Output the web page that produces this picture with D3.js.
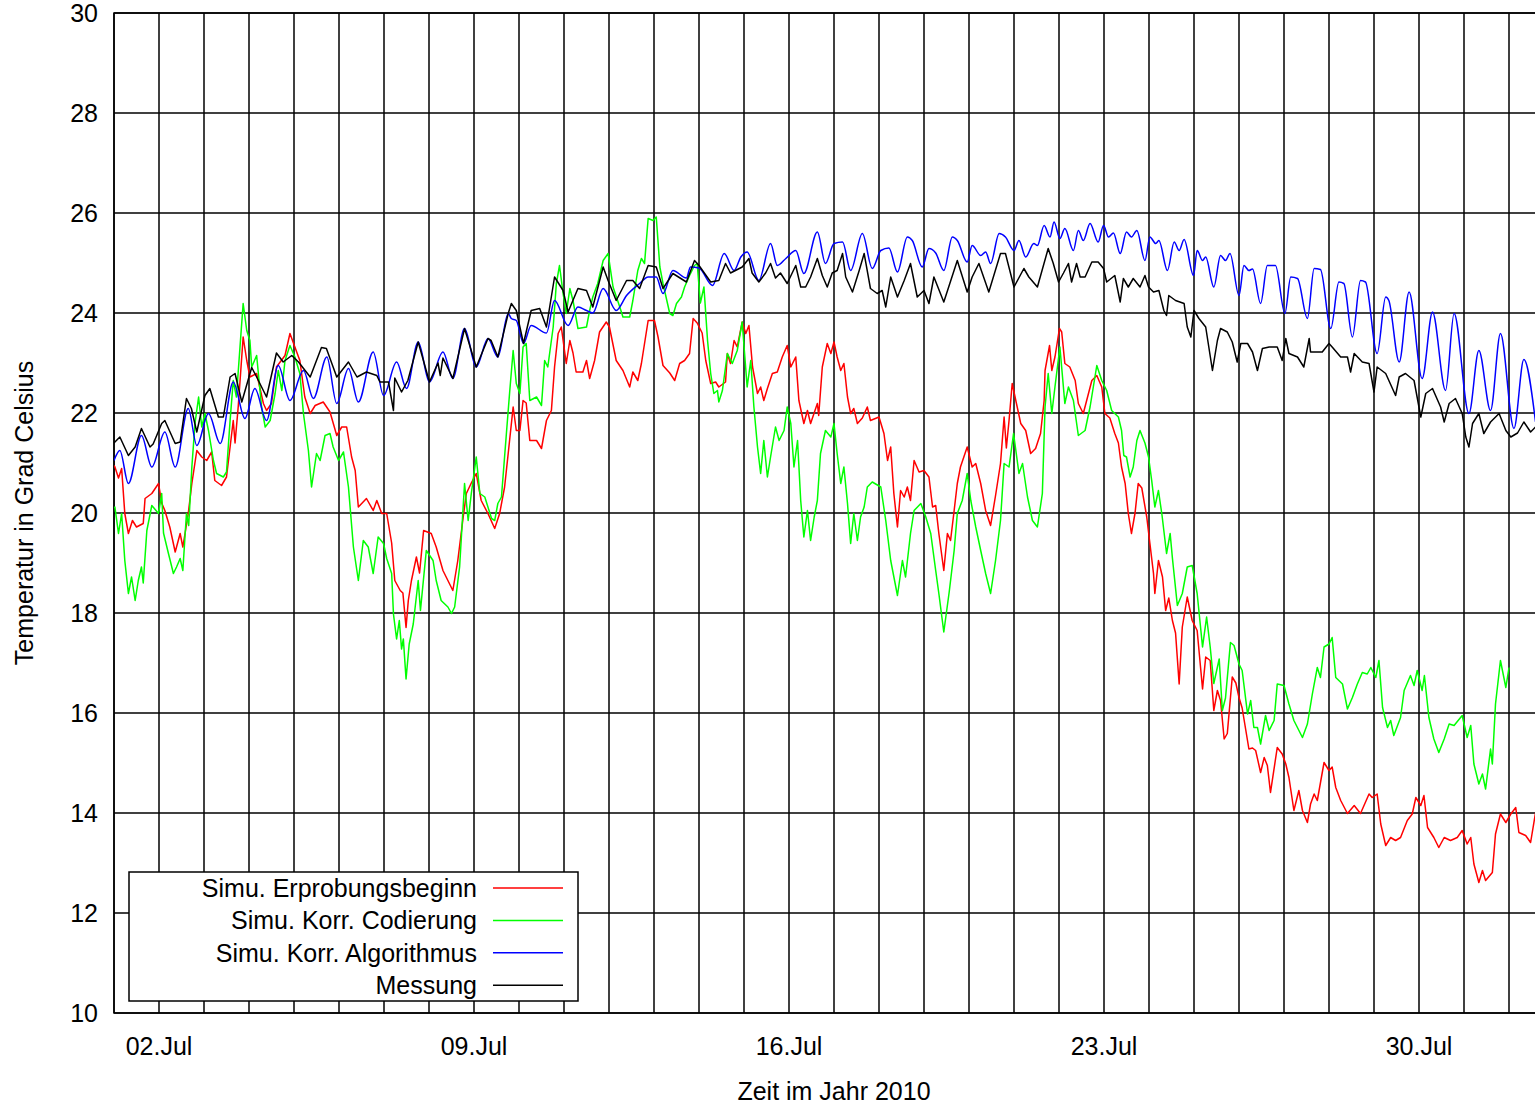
<!DOCTYPE html>
<html>
<head>
<meta charset="utf-8">
<script src="https://cdn.jsdelivr.net/npm/d3@7"></script>
<style>
  body { margin: 0; background: #fff; }
  svg { display: block; font-family: "Liberation Sans", Arial, sans-serif; }
</style>
</head>
<body>
<svg id="chart"></svg>
<script>
// time is given as decimal day of July 2010 (1.0 = 01.Jul 00:00), values in degC
let erprobung = [[1.0,20.95],[1.02,20.92],[1.1,20.7],[1.17,20.89],[1.24,19.99],[1.32,19.59],[1.41,19.85],[1.5,19.72],[1.65,19.79],[1.69,20.29],[1.84,20.39],[1.99,20.59],[2.06,20.2],[2.13,20.05],[2.24,19.72],[2.36,19.22],[2.47,19.59],[2.53,19.32],[2.65,19.99],[2.73,20.59],[2.84,21.25],[2.95,21.12],[3.06,21.05],[3.17,21.22],[3.24,20.65],[3.39,20.55],[3.5,20.72],[3.65,21.85],[3.69,21.4],[3.76,22.12],[3.87,23.52],[3.95,23.05],[4.02,22.72],[4.17,22.79],[4.32,22.19],[4.39,22.05],[4.5,22.19],[4.61,22.92],[4.8,23.15],[4.91,23.59],[5.06,23.22],[5.13,23.05],[5.24,22.32],[5.36,21.99],[5.47,22.15],[5.65,22.22],[5.8,22.02],[5.95,21.55],[6.06,21.72],[6.17,21.72],[6.28,21.12],[6.36,20.85],[6.43,20.12],[6.61,20.29],[6.76,20.05],[6.84,20.25],[6.95,19.99],[7.06,19.99],[7.17,19.4],[7.24,18.65],[7.36,18.45],[7.42,18.4],[7.49,17.71],[7.54,18.25],[7.61,18.65],[7.72,19.12],[7.79,18.8],[7.88,19.65],[8.05,19.59],[8.16,19.32],[8.31,18.85],[8.42,18.65],[8.53,18.45],[8.64,19.05],[8.76,19.92],[8.83,20.39],[8.94,20.6],[9.05,20.79],[9.16,20.25],[9.31,19.99],[9.46,19.69],[9.57,19.99],[9.68,20.52],[9.76,21.19],[9.87,22.12],[9.94,21.65],[10.02,21.65],[10.09,22.25],[10.16,22.2],[10.24,21.45],[10.39,21.45],[10.5,21.29],[10.61,21.85],[10.72,22.05],[10.79,22.92],[10.87,23.59],[10.94,23.72],[11.05,22.99],[11.13,23.45],[11.2,23.2],[11.27,22.82],[11.42,22.82],[11.5,23.05],[11.57,22.69],[11.68,23.05],[11.79,23.62],[11.94,23.82],[12.01,23.72],[12.16,23.05],[12.31,22.85],[12.46,22.52],[12.53,22.82],[12.64,22.65],[12.72,22.99],[12.87,23.85],[13.01,23.85],[13.09,23.52],[13.2,22.95],[13.35,22.8],[13.46,22.65],[13.57,22.99],[13.68,23.05],[13.79,23.19],[13.87,23.89],[13.96,23.8],[14.07,23.6],[14.15,23.05],[14.26,22.59],[14.37,22.62],[14.44,22.52],[14.59,22.62],[14.63,23.19],[14.7,22.99],[14.78,23.45],[14.85,23.32],[14.96,23.82],[15.04,23.59],[15.11,23.75],[15.19,22.92],[15.3,22.39],[15.37,22.52],[15.44,22.25],[15.52,22.49],[15.63,22.79],[15.74,22.82],[15.85,23.12],[15.96,23.35],[16.04,22.92],[16.15,23.12],[16.22,22.25],[16.33,21.79],[16.41,22.05],[16.48,21.79],[16.63,22.19],[16.66,21.95],[16.74,22.92],[16.85,23.39],[16.93,23.19],[17.0,23.42],[17.07,23.12],[17.15,22.85],[17.22,22.99],[17.3,22.32],[17.37,21.99],[17.44,22.09],[17.52,21.79],[17.63,21.9],[17.74,22.12],[17.81,21.85],[18.0,21.92],[18.11,21.59],[18.19,21.05],[18.26,21.32],[18.33,20.39],[18.41,19.72],[18.48,20.45],[18.56,20.32],[18.63,20.52],[18.7,20.25],[18.78,21.05],[18.89,20.82],[19.0,20.85],[19.11,20.72],[19.19,20.12],[19.26,20.15],[19.33,19.59],[19.44,18.85],[19.52,19.59],[19.59,19.45],[19.67,20.05],[19.74,20.59],[19.81,20.92],[19.96,21.32],[20.07,20.92],[20.15,20.99],[20.26,20.59],[20.37,20.05],[20.48,19.75],[20.59,20.35],[20.7,20.99],[20.78,21.92],[20.83,21.3],[20.89,21.85],[20.96,22.59],[21.04,22.25],[21.15,21.79],[21.26,21.65],[21.37,21.19],[21.48,21.29],[21.59,21.59],[21.67,22.25],[21.69,22.85],[21.79,23.35],[21.84,22.85],[21.91,23.12],[22.01,23.69],[22.06,23.62],[22.13,22.99],[22.24,22.92],[22.36,22.65],[22.43,22.19],[22.54,21.99],[22.73,22.65],[22.84,22.75],[22.95,22.52],[23.02,21.99],[23.13,21.9],[23.24,21.59],[23.32,21.4],[23.39,20.92],[23.47,20.59],[23.54,19.99],[23.61,19.59],[23.69,20.0],[23.76,20.59],[23.84,20.5],[23.95,19.92],[24.02,19.39],[24.1,18.79],[24.13,18.39],[24.21,19.05],[24.3,18.72],[24.37,18.05],[24.44,18.3],[24.52,17.85],[24.59,17.6],[24.67,16.58],[24.74,17.72],[24.85,18.32],[24.96,17.85],[25.07,17.65],[25.19,16.48],[25.26,17.12],[25.36,17.05],[25.44,16.05],[25.52,16.45],[25.59,16.25],[25.67,15.48],[25.74,15.59],[25.85,16.72],[25.93,16.6],[26.0,16.31],[26.07,16.1],[26.22,15.28],[26.3,15.3],[26.37,15.25],[26.48,14.81],[26.56,15.11],[26.63,14.95],[26.7,14.41],[26.85,15.31],[26.96,15.18],[27.04,14.98],[27.11,14.71],[27.22,14.05],[27.33,14.45],[27.41,14.05],[27.52,13.81],[27.59,14.18],[27.67,14.38],[27.74,14.25],[27.89,15.01],[28.0,14.85],[28.07,14.92],[28.15,14.51],[28.26,14.25],[28.41,13.99],[28.56,14.15],[28.7,13.99],[28.89,14.38],[28.96,14.31],[29.07,14.38],[29.15,13.78],[29.26,13.35],[29.37,13.51],[29.48,13.45],[29.59,13.51],[29.74,13.85],[29.85,13.98],[29.93,14.31],[30.04,14.15],[30.11,14.35],[30.19,13.71],[30.33,13.51],[30.44,13.31],[30.56,13.51],[30.7,13.45],[30.85,13.51],[30.96,13.65],[31.07,13.38],[31.15,13.51],[31.22,12.98],[31.33,12.61],[31.41,12.85],[31.48,12.65],[31.63,12.81],[31.7,13.58],[31.81,13.98],[31.93,13.81],[32.04,13.98],[32.15,14.11],[32.22,13.61],[32.37,13.55],[32.48,13.41],[32.59,14.01]]

let codierung = [[1.0,20.1],[1.02,20.12],[1.1,19.59],[1.17,19.99],[1.24,19.05],[1.32,18.39],[1.39,18.72],[1.47,18.25],[1.54,18.65],[1.61,18.92],[1.65,18.6],[1.73,19.65],[1.84,20.15],[1.99,19.99],[2.06,20.39],[2.1,19.6],[2.21,19.19],[2.32,18.79],[2.39,18.92],[2.47,19.09],[2.53,18.85],[2.61,19.99],[2.66,19.75],[2.73,20.92],[2.8,21.79],[2.88,22.32],[2.95,21.72],[3.02,21.99],[3.1,21.65],[3.21,21.05],[3.28,20.79],[3.43,20.72],[3.5,20.82],[3.58,21.85],[3.65,22.65],[3.72,22.32],[3.8,23.32],[3.87,24.19],[3.95,23.65],[4.02,23.45],[4.06,22.92],[4.17,23.15],[4.28,22.12],[4.36,21.72],[4.47,21.85],[4.58,22.39],[4.65,22.85],[4.73,22.45],[4.8,23.05],[4.91,23.35],[5.02,23.12],[5.13,22.79],[5.21,21.99],[5.32,21.25],[5.39,20.52],[5.5,21.19],[5.58,21.05],[5.69,21.55],[5.8,21.59],[5.87,21.32],[5.99,21.05],[6.1,21.22],[6.21,20.52],[6.32,19.32],[6.43,18.65],[6.54,19.45],[6.65,19.32],[6.76,18.79],[6.87,19.52],[6.99,19.39],[7.06,19.09],[7.17,18.79],[7.21,17.98],[7.28,17.48],[7.34,17.85],[7.39,17.28],[7.43,17.48],[7.49,16.68],[7.56,17.38],[7.65,17.78],[7.76,18.65],[7.81,18.05],[7.94,19.25],[8.09,19.05],[8.16,18.65],[8.27,18.25],[8.42,18.12],[8.5,17.99],[8.57,18.12],[8.68,18.92],[8.79,20.59],[8.87,19.85],[8.94,20.39],[9.05,21.12],[9.13,20.39],[9.24,20.32],[9.39,19.89],[9.46,19.85],[9.53,20.19],[9.61,20.32],[9.72,21.59],[9.79,22.39],[9.87,23.25],[9.94,22.59],[10.02,22.39],[10.09,23.32],[10.16,23.39],[10.24,22.25],[10.39,22.32],[10.5,22.15],[10.57,23.05],[10.64,22.92],[10.76,23.72],[10.83,24.59],[10.9,24.95],[10.98,24.39],[11.05,23.99],[11.13,24.49],[11.2,24.25],[11.31,23.69],[11.5,23.72],[11.57,24.05],[11.64,24.32],[11.75,24.59],[11.87,25.05],[11.98,25.19],[12.09,24.52],[12.24,24.12],[12.31,23.92],[12.46,23.92],[12.53,24.25],[12.64,24.85],[12.72,25.09],[12.79,24.99],[12.87,25.89],[12.98,25.85],[13.05,25.92],[13.13,24.92],[13.2,24.59],[13.35,23.99],[13.42,23.95],[13.5,24.19],[13.61,24.32],[13.68,24.52],[13.79,24.75],[13.9,24.95],[13.96,24.99],[14.03,24.2],[14.11,24.52],[14.19,23.45],[14.26,22.79],[14.33,22.39],[14.41,22.45],[14.44,22.22],[14.52,22.45],[14.63,23.19],[14.74,22.99],[14.85,23.25],[14.96,23.82],[15.07,22.52],[15.15,23.05],[15.22,22.12],[15.3,21.32],[15.37,20.79],[15.44,21.45],[15.52,20.72],[15.59,21.12],[15.7,21.72],[15.78,21.45],[15.89,21.65],[15.96,22.12],[16.04,21.79],[16.11,20.92],[16.19,21.45],[16.26,20.25],[16.33,19.52],[16.41,20.05],[16.48,19.45],[16.56,19.92],[16.63,20.25],[16.7,21.19],[16.81,21.65],[16.93,21.52],[17.0,21.79],[17.07,21.19],[17.15,20.59],[17.22,20.92],[17.3,20.19],[17.37,19.39],[17.44,19.99],[17.52,19.45],[17.59,19.92],[17.67,20.12],[17.74,20.52],[17.85,20.62],[18.04,20.52],[18.15,19.85],[18.26,19.05],[18.41,18.35],[18.52,19.05],[18.59,18.72],[18.7,19.59],[18.78,20.05],[18.93,20.19],[19.04,19.92],[19.15,19.59],[19.26,18.85],[19.33,18.39],[19.44,17.62],[19.56,18.42],[19.67,19.25],[19.74,19.99],[19.85,20.25],[19.96,20.79],[20.04,20.25],[20.15,19.72],[20.26,19.25],[20.37,18.79],[20.48,18.39],[20.59,19.05],[20.7,19.85],[20.78,20.99],[20.89,20.92],[20.99,21.59],[21.11,20.79],[21.19,20.99],[21.3,20.32],[21.41,19.85],[21.52,19.72],[21.63,20.39],[21.69,22.12],[21.76,22.79],[21.84,21.99],[21.91,22.52],[22.02,23.32],[22.13,22.19],[22.21,22.52],[22.32,22.25],[22.43,21.55],[22.58,21.65],[22.69,22.12],[22.84,22.95],[22.95,22.65],[23.06,22.45],[23.17,22.05],[23.32,21.92],[23.39,21.65],[23.44,21.15],[23.5,21.12],[23.58,20.72],[23.65,20.92],[23.73,21.45],[23.8,21.65],[23.91,21.4],[23.99,21.12],[24.06,20.65],[24.13,20.12],[24.21,20.45],[24.29,19.95],[24.39,19.19],[24.47,19.59],[24.52,19.1],[24.63,18.15],[24.74,18.39],[24.85,18.92],[24.96,18.95],[25.07,18.39],[25.19,17.32],[25.28,17.92],[25.36,17.32],[25.44,16.59],[25.56,17.08],[25.63,16.05],[25.7,16.3],[25.81,17.41],[25.89,17.35],[26.0,16.98],[26.07,16.85],[26.19,15.98],[26.26,16.25],[26.33,15.71],[26.41,15.71],[26.48,15.38],[26.59,15.95],[26.67,15.65],[26.78,15.85],[26.85,16.58],[27.0,16.55],[27.11,16.18],[27.22,15.85],[27.41,15.51],[27.52,15.78],[27.63,16.38],[27.74,16.91],[27.81,16.71],[27.89,17.32],[28.0,17.38],[28.07,17.51],[28.15,16.71],[28.3,16.58],[28.41,16.08],[28.52,16.31],[28.63,16.58],[28.74,16.81],[28.85,16.78],[28.93,16.91],[29.04,16.71],[29.11,17.05],[29.19,16.11],[29.3,15.71],[29.37,15.85],[29.44,15.55],[29.59,15.91],[29.67,16.45],[29.81,16.75],[29.89,16.55],[29.96,16.85],[30.07,16.45],[30.12,16.75],[30.22,15.91],[30.33,15.48],[30.44,15.21],[30.56,15.48],[30.67,15.78],[30.78,15.75],[30.96,15.95],[31.07,15.51],[31.15,15.75],[31.22,14.98],[31.33,14.58],[31.41,14.78],[31.48,14.48],[31.59,15.28],[31.63,14.98],[31.7,16.18],[31.81,17.05],[31.93,16.51],[32.0,16.91]]

let algorithmus = [[1.0,21.05],[1.13,21.25],[1.32,20.59],[1.61,21.55],[1.84,20.92],[2.13,21.62],[2.36,20.92],[2.65,22.09],[2.84,21.35],[3.1,21.99],[3.36,21.39],[3.65,22.62],[3.91,21.89],[4.13,22.49],[4.39,21.85],[4.65,22.95],[4.91,22.25],[5.21,22.85],[5.43,22.29],[5.73,23.12],[5.95,22.19],[6.21,22.89],[6.43,22.22],[6.76,23.22],[6.99,22.35],[7.28,23.02],[7.5,22.49],[7.76,23.42],[8.01,22.62],[8.31,23.22],[8.53,22.69],[8.79,23.69],[9.05,22.92],[9.31,23.49],[9.53,23.12],[9.76,23.99],[9.83,23.89],[9.94,23.85],[10.1,23.39],[10.27,23.75],[10.61,23.6],[10.79,24.25],[11.09,23.75],[11.31,24.12],[11.5,24.05],[11.64,24.0],[11.87,24.49],[12.16,24.05],[12.39,24.35],[12.68,24.59],[12.87,24.72],[13.05,24.72],[13.2,24.39],[13.42,24.85],[13.72,24.7],[13.81,24.92],[14.0,24.9],[14.3,24.55],[14.56,25.19],[14.78,24.85],[14.93,25.12],[15.07,25.22],[15.33,24.65],[15.59,25.39],[15.74,24.95],[15.93,25.09],[16.15,25.25],[16.33,24.79],[16.63,25.62],[16.81,24.99],[17.0,25.39],[17.19,25.42],[17.37,24.85],[17.63,25.59],[17.85,24.89],[18.04,25.25],[18.22,25.3],[18.41,24.82],[18.63,25.52],[18.74,25.45],[18.96,24.92],[19.11,25.29],[19.26,25.2],[19.44,24.85],[19.63,25.52],[19.74,25.45],[19.96,25.02],[20.07,25.35],[20.26,25.15],[20.37,25.22],[20.48,24.99],[20.67,25.59],[20.81,25.52],[21.0,25.25],[21.11,25.45],[21.26,25.12],[21.44,25.39],[21.52,25.35],[21.67,25.75],[21.8,25.52],[21.89,25.82],[22.02,25.49],[22.13,25.69],[22.32,25.25],[22.43,25.65],[22.54,25.45],[22.69,25.79],[22.87,25.42],[22.99,25.75],[23.1,25.52],[23.21,25.6],[23.36,25.19],[23.5,25.62],[23.61,25.52],[23.73,25.65],[23.91,25.05],[24.02,25.52],[24.15,25.39],[24.22,25.45],[24.41,24.85],[24.56,25.42],[24.67,25.25],[24.78,25.47],[24.99,24.75],[25.07,25.25],[25.19,25.05],[25.26,25.12],[25.44,24.52],[25.59,25.15],[25.7,25.05],[25.8,25.19],[26.0,24.35],[26.11,24.95],[26.22,24.85],[26.3,24.88],[26.48,24.19],[26.63,24.95],[26.81,24.95],[27.02,23.99],[27.15,24.72],[27.3,24.69],[27.52,23.89],[27.67,24.89],[27.81,24.87],[28.04,23.69],[28.22,24.62],[28.33,24.59],[28.52,23.52],[28.7,24.65],[28.81,24.62],[29.07,23.19],[29.26,24.32],[29.33,24.25],[29.56,23.02],[29.78,24.42],[30.07,22.69],[30.3,24.02],[30.59,22.45],[30.78,23.99],[31.11,21.99],[31.33,23.25],[31.59,22.05],[31.81,23.59],[32.11,21.69],[32.33,23.07],[32.59,21.82]]

let messung = [[1.0,21.4],[1.02,21.42],[1.13,21.52],[1.32,21.15],[1.47,21.32],[1.61,21.69],[1.8,21.32],[1.87,21.38],[2.06,21.79],[2.13,21.85],[2.36,21.39],[2.47,21.42],[2.61,22.29],[2.72,22.09],[2.84,21.62],[3.02,22.35],[3.13,22.49],[3.32,21.92],[3.43,21.92],[3.58,22.72],[3.69,22.79],[3.84,22.22],[4.06,22.91],[4.17,22.72],[4.39,22.32],[4.61,23.2],[4.76,23.02],[4.95,23.15],[5.1,23.02],[5.36,22.72],[5.61,23.31],[5.72,23.29],[5.95,22.72],[6.21,23.02],[6.4,22.72],[6.61,22.82],[6.84,22.75],[6.91,22.62],[7.1,22.62],[7.21,22.05],[7.24,22.7],[7.39,22.42],[7.53,22.65],[7.76,23.42],[8.01,22.62],[8.2,23.0],[8.25,22.75],[8.31,23.1],[8.53,22.69],[8.79,23.69],[9.05,22.92],[9.31,23.49],[9.38,23.45],[9.53,23.12],[9.76,23.99],[9.83,24.19],[9.94,24.05],[10.1,23.39],[10.27,24.05],[10.46,24.09],[10.61,23.72],[10.79,24.72],[10.98,24.45],[11.09,24.02],[11.31,24.49],[11.5,24.45],[11.64,24.12],[11.87,24.92],[11.98,24.65],[12.16,24.25],[12.39,24.65],[12.53,24.65],[12.68,24.49],[12.87,24.95],[13.05,24.92],[13.2,24.49],[13.42,24.79],[13.72,24.62],[13.9,25.05],[14.0,24.95],[14.26,24.62],[14.44,24.65],[14.59,24.99],[14.7,24.8],[14.81,24.85],[14.96,24.92],[15.11,25.09],[15.18,24.8],[15.33,24.62],[15.48,24.8],[15.59,24.99],[15.7,24.7],[15.81,24.8],[15.96,24.59],[16.15,24.95],[16.26,24.52],[16.37,24.52],[16.48,24.72],[16.63,25.09],[16.74,24.75],[16.85,24.52],[16.96,24.8],[17.07,24.85],[17.19,25.19],[17.26,24.72],[17.41,24.42],[17.56,24.85],[17.67,25.19],[17.81,24.49],[17.96,24.39],[18.07,24.45],[18.15,24.12],[18.26,24.72],[18.41,24.32],[18.56,24.65],[18.7,24.99],[18.85,24.32],[19.0,24.45],[19.11,24.19],[19.22,24.72],[19.44,24.22],[19.74,25.05],[19.96,24.42],[20.07,24.72],[20.22,24.99],[20.44,24.42],[20.7,25.19],[20.81,25.19],[21.0,24.52],[21.22,24.89],[21.33,24.72],[21.52,24.52],[21.76,25.29],[21.87,25.0],[21.99,24.62],[22.1,24.8],[22.21,24.99],[22.28,24.62],[22.39,24.99],[22.47,24.72],[22.58,24.72],[22.73,25.02],[22.87,25.02],[22.99,24.89],[23.06,24.62],[23.24,24.75],[23.36,24.22],[23.43,24.69],[23.54,24.52],[23.65,24.69],[23.8,24.52],[23.91,24.75],[23.99,24.52],[24.1,24.42],[24.22,24.45],[24.33,24.05],[24.39,23.95],[24.44,24.35],[24.59,24.25],[24.78,24.19],[24.85,23.72],[24.93,23.52],[25.0,24.05],[25.11,23.89],[25.26,23.72],[25.41,22.85],[25.52,23.45],[25.59,23.69],[25.74,23.62],[25.85,23.42],[25.96,23.02],[26.04,23.39],[26.19,23.39],[26.3,23.22],[26.41,22.85],[26.52,23.29],[26.67,23.32],[26.85,23.32],[26.96,23.05],[27.04,23.49],[27.11,23.19],[27.3,23.12],[27.44,22.92],[27.56,23.49],[27.59,23.22],[27.85,23.22],[28.0,23.39],[28.07,23.32],[28.26,23.12],[28.41,23.12],[28.48,22.82],[28.56,23.19],[28.74,23.02],[28.89,22.99],[29.0,22.42],[29.07,22.92],[29.26,22.79],[29.48,22.35],[29.56,22.72],[29.7,22.79],[29.89,22.65],[30.04,21.92],[30.15,22.39],[30.3,22.49],[30.48,22.12],[30.56,21.82],[30.67,22.19],[30.81,22.29],[30.96,21.99],[31.04,21.52],[31.11,21.32],[31.19,21.79],[31.33,21.99],[31.44,21.59],[31.59,21.82],[31.78,21.99],[31.93,21.65],[32.04,21.52],[32.19,21.6],[32.33,21.82],[32.48,21.62],[32.59,21.72]]

let seriesNames = ["Simu. Erprobungsbeginn", "Simu. Korr. Codierung", "Simu. Korr. Algorithmus", "Messung"]
let seriesColors = ["#ff0000", "#00ff00", "#0000ff", "#000000"]
let seriesData = [erprobung, codierung, algorithmus, messung]

let yTicks = [10, 12, 14, 16, 18, 20, 22, 24, 26, 28, 30]
let xLabelDays = ["2010-07-02", "2010-07-09", "2010-07-16", "2010-07-23", "2010-07-30"]
let xStart = "2010-07-01", xEnd = "2010-08-02"

let parseDay = d3.timeParse("%Y-%m-%d")
let formatTick = d3.timeFormat("%d.%b")
let t0 = parseDay(xStart)
function toDate(day) { return new Date(t0.getTime() + (day - 1) * 864e5) }

let margin = { top: 13, left: 114 },
    width = 1440,
    height = 1000,
    fontSize = "25px"

let x = d3.scaleTime().domain([t0, parseDay(xEnd)]).range([0, width])
let y = d3.scaleLinear().domain([10, 30]).range([height, 0])

let svg = d3.select("#chart")
    .attr("width", 1535)
    .attr("height", 1107)

svg.append("rect").attr("width", 1535).attr("height", 1107).attr("fill", "#fff")

svg.append("defs").append("clipPath")
    .attr("id", "clip")
    .append("rect")
    .attr("width", width)
    .attr("height", height)

let plot = svg.append("g")
    .attr("transform", "translate(" + margin.left + "," + margin.top + ")")

// daily grid
plot.append("g")
    .attr("class", "grid")
    .selectAll("line")
    .data(d3.timeDay.range(t0, parseDay(xEnd)))
    .join("line")
    .attr("x1", d => x(d)).attr("x2", d => x(d))
    .attr("y1", 0).attr("y2", height)
    .attr("stroke", "#000")
    .attr("stroke-width", 1.5)

plot.append("g")
    .attr("class", "grid")
    .selectAll("line")
    .data(yTicks)
    .join("line")
    .attr("x1", 0).attr("x2", width)
    .attr("y1", d => y(d)).attr("y2", d => y(d))
    .attr("stroke", "#000")
    .attr("stroke-width", 1.5)

plot.append("rect")
    .attr("width", width)
    .attr("height", height)
    .attr("fill", "none")
    .attr("stroke", "#000")
    .attr("stroke-width", 1.5)

// y tick labels
plot.append("g")
    .selectAll("text")
    .data(yTicks)
    .join("text")
    .attr("x", -16)
    .attr("y", d => y(d) + 9)
    .attr("text-anchor", "end")
    .style("font-size", fontSize)
    .text(d => d)

// x tick labels
plot.append("g")
    .selectAll("text")
    .data(xLabelDays.map(parseDay))
    .join("text")
    .attr("x", d => x(d))
    .attr("y", height + 42)
    .attr("text-anchor", "middle")
    .style("font-size", fontSize)
    .text(d => formatTick(d))

svg.append("text")
    .attr("x", margin.left + width / 2)
    .attr("y", 1100)
    .attr("text-anchor", "middle")
    .style("font-size", fontSize)
    .text("Zeit im Jahr 2010")

svg.append("text")
    .attr("transform", "translate(33," + (margin.top + height / 2) + ") rotate(-90)")
    .attr("text-anchor", "middle")
    .style("font-size", fontSize)
    .text("Temperatur in Grad Celsius")

// series
let line = d3.line()
    .x(d => x(toDate(d[0])))
    .y(d => y(d[1]))

let smoothLine = d3.line()
    .curve(d3.curveMonotoneX)
    .x(d => x(toDate(d[0])))
    .y(d => y(d[1]))

let lines = plot.append("g").attr("clip-path", "url(#clip)")
seriesData.forEach(function (s, i) {
    lines.append("path")
        .datum(s)
        .attr("d", i == 2 ? smoothLine : line)
        .attr("fill", "none")
        .attr("stroke", seriesColors[i])
        .attr("stroke-width", 1.5)
        .attr("stroke-linejoin", "round")
})

// legend
let legend = svg.append("g").attr("transform", "translate(129,872)")
legend.append("rect")
    .attr("width", 449)
    .attr("height", 129)
    .attr("fill", "#fff")
    .attr("stroke", "#000")
    .attr("stroke-width", 1.5)

seriesNames.forEach(function (name, i) {
    let row = legend.append("g").attr("transform", "translate(0," + (16 + i * 32.4) + ")")
    row.append("text")
        .attr("x", 348)
        .attr("y", 9)
        .attr("text-anchor", "end")
        .style("font-size", fontSize)
        .text(name)
    row.append("line")
        .attr("x1", 364).attr("x2", 434)
        .attr("stroke", seriesColors[i])
        .attr("stroke-width", 1.5)
})
</script>
</body>
</html>
